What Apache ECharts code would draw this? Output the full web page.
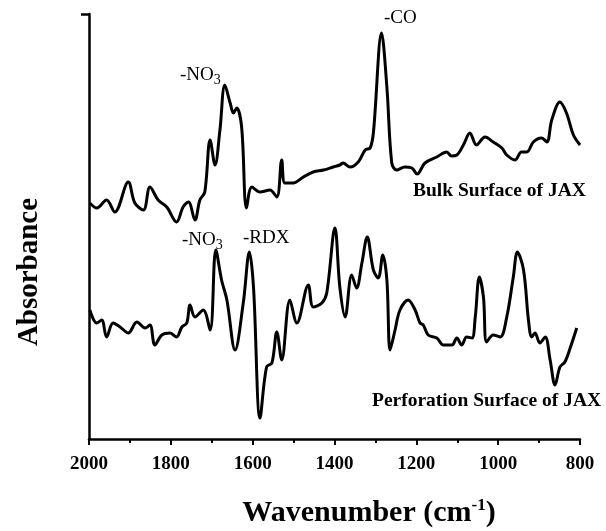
<!DOCTYPE html>
<html><head><meta charset="utf-8">
<script src="https://cdn.jsdelivr.net/npm/echarts@6/dist/echarts.min.js"></script>
<style>html,body{margin:0;padding:0;background:#fff}#c{width:606px;height:531px}</style>
</head><body><div id="c"></div>
<script>
// Wavenumber ticks
const xTicks = [2000, 1800, 1600, 1400, 1200, 1000, 800];

// Bulk Surface of JAX: wavenumbers and absorbance (arbitrary units)
const bulkWn = [1998,1981,1957,1937,1904,1888,1867,1851,1831,1810,1786,1770,1757,1741,1729,1717,1704,1692,1680,1668,1655,1647,1639,1627,1615,1602,1582,1558,1541,1529,1521,1501,1476,1452,1427,1403,1387,1379,1362,1342,1325,1313,1305,1285,1272,1260,1248,1228,1211,1198,1179,1150,1126,1114,1101,1085,1069,1053,1032,1012,991,979,959,943,930,914,894,881,869,849,833,816,800];
const bulkAbs = [236,231,239,227,257,236,229,252,239,232,217,232,237,219,239,247,299,274,309,354,336,326,331,312,231,252,247,249,242,279,256,256,262,267,269,272,274,276,272,277,289,291,306,406,352,276,269,272,271,265,276,282,287,283,284,294,306,294,302,297,291,284,279,287,287,297,301,297,319,337,326,304,294];

// Perforation Surface of JAX
const perfWn = [1998,1981,1969,1957,1941,1924,1904,1883,1863,1851,1839,1822,1802,1786,1773,1761,1753,1741,1721,1704,1690,1676,1663,1643,1623,1608,1598,1582,1566,1553,1541,1529,1509,1492,1464,1452,1431,1419,1399,1387,1374,1358,1346,1333,1320,1305,1293,1282,1272,1264,1252,1240,1220,1203,1191,1183,1171,1150,1134,1113,1101,1089,1077,1064,1056,1046,1036,1028,1012,995,979,963,953,938,926,918,910,898,885,873,861,849,837,824,808];
const perfAbs = [129,116,119,102,116,112,106,117,111,114,94,104,106,102,112,116,134,122,129,109,189,159,139,89,136,187,152,21,72,76,107,79,139,116,154,132,136,146,211,152,122,164,151,176,202,169,161,184,159,89,109,129,139,129,116,114,104,101,94,94,101,94,102,101,122,162,142,97,104,102,122,162,187,169,119,102,106,96,102,79,54,72,77,91,111];

const seriesNames = ['Bulk Surface of JAX', 'Perforation Surface of JAX'];
const xTitle = 'Wavenumber (cm';
const yTitle = 'Absorbance';

const chart = echarts.init(document.getElementById('c'), null, {renderer: 'canvas'});
const serif = '"Liberation Serif", "DejaVu Serif", serif';

function pairs(xs, ys) { return xs.map((x, i) => [x, ys[i]]); }
const subRich = {
  a: {fontFamily: serif, fontSize: 19, fill: '#000'},
  s: {fontFamily: serif, fontSize: 14, fill: '#000', padding: [9,0,0,0]}
};

chart.setOption({
  animation: false,
  backgroundColor: '#fff',
  grid: {left: 89, right: 26, top: 14, bottom: 92, containLabel: false},
  xAxis: {
    type: 'value', inverse: true, min: 800, max: 2000, interval: 200,
    axisLine: {show: true, lineStyle: {color: '#000', width: 2.5}},
    axisTick: {show: true, inside: false, length: 6, lineStyle: {color: '#000', width: 2}},
    minorTick: {show: true, splitNumber: 2, length: 4, lineStyle: {color: '#000', width: 2}},
    splitLine: {show: false},
    axisLabel: {color: '#000', fontFamily: serif, fontSize: 19, fontWeight: 'bold', margin: 16,
      formatter: v => xTicks.includes(v) ? String(v) : ''}
  },
  yAxis: {
    type: 'value', min: 0, max: 425,
    axisLine: {show: true, lineStyle: {color: '#000', width: 2.5}},
    axisTick: {show: true, customValues: [425], length: 8, lineStyle: {color: '#000', width: 2.5}},
    axisLabel: {show: false},
    splitLine: {show: false}
  },
  series: [
    {name: seriesNames[0], type: 'line', data: pairs(bulkWn, bulkAbs), smooth: 0.35, symbol: 'none',
      lineStyle: {color: '#000', width: 3}},
    {name: seriesNames[1], type: 'line', data: pairs(perfWn, perfAbs), smooth: 0.35, symbol: 'none',
      lineStyle: {color: '#000', width: 3}}
  ],
  graphic: [
    {type: 'text', x: 369, y: 513, style: {
      text: '{a|' + xTitle + '}{s|-1}{a|)}', align: 'center', verticalAlign: 'middle',
      rich: {
        a: {fontFamily: serif, fontSize: 30, fontWeight: 'bold', fill: '#000'},
        s: {fontFamily: serif, fontSize: 17, fontWeight: 'bold', fill: '#000', padding: [0,0,14,0]}
      }}},
    {type: 'text', x: 30, y: 272, rotation: Math.PI / 2, style: {
      text: yTitle, align: 'center', verticalAlign: 'middle',
      fontFamily: serif, fontSize: 29, fontWeight: 'bold', fill: '#000'}},
    {type: 'text', x: 180, y: 64, style: {rich: subRich, text: '{a|-NO}{s|3}'}},
    {type: 'text', x: 384, y: 9, style: {text: '-CO', fontFamily: serif, fontSize: 19, fill: '#000'}},
    {type: 'text', x: 413, y: 181, style: {text: seriesNames[0], fontFamily: serif, fontSize: 19.5, fontWeight: 'bold', fill: '#000'}},
    {type: 'text', x: 182, y: 229, style: {rich: subRich, text: '{a|-NO}{s|3}'}},
    {type: 'text', x: 243, y: 229, style: {text: '-RDX', fontFamily: serif, fontSize: 19, fill: '#000'}},
    {type: 'text', x: 372, y: 391, style: {text: seriesNames[1], fontFamily: serif, fontSize: 19.5, fontWeight: 'bold', fill: '#000'}}
  ]
});
</script></body></html>
